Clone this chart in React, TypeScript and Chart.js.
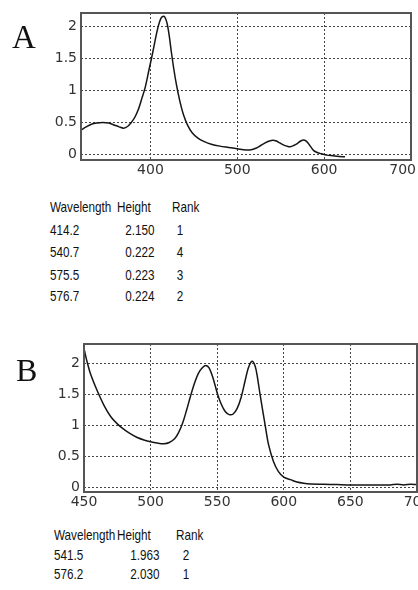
import React, { useEffect, useRef } from "react";
import { Chart, registerables } from "chart.js";

Chart.register(...registerables);

// ---------- Data: spectrum A ----------
const wavelengthsA = [
  320, 326, 332, 338, 345, 352, 358, 364, 369, 374, 378, 382, 386, 390, 394, 398,
  402, 406, 409, 412, 414.2, 416.5, 419, 421.5, 424, 427, 430, 434, 438, 443, 448,
  455, 462, 470, 480, 490, 500, 510, 516, 522, 527, 532, 537, 541, 545, 549, 553,
  557, 561, 565, 569, 573, 576.7, 580, 584, 588, 592, 597, 603, 610, 617, 624,
];
const absorbanceA = [
  0.38, 0.43, 0.47, 0.49, 0.5, 0.49, 0.46, 0.43, 0.41, 0.44, 0.5, 0.58, 0.7, 0.87, 1.05, 1.3,
  1.55, 1.82, 2.0, 2.12, 2.15, 2.14, 2.05, 1.86, 1.6, 1.32, 1.08, 0.82, 0.62, 0.45, 0.34,
  0.25, 0.2, 0.16, 0.13, 0.11, 0.09, 0.07, 0.075, 0.1, 0.14, 0.18, 0.21, 0.222, 0.21, 0.18, 0.15,
  0.13, 0.12, 0.14, 0.17, 0.21, 0.224, 0.2, 0.13, 0.06, 0.03, 0.01, -0.01, -0.02, -0.03, -0.035,
];
const xTicksA = [400, 500, 600, 700];

// ---------- Data: spectrum B ----------
const wavelengthsB = [
  450, 452, 455, 460, 465, 470, 475, 480, 485, 490, 495, 500, 505, 510, 514, 518, 521,
  524, 527, 530, 533, 536, 539, 541.5, 544, 547, 550, 553, 556, 559, 562, 565, 568, 571,
  573.5, 576.2, 578.5, 580, 582.3, 586, 588.6, 592.3, 596, 600, 605, 610, 615, 620, 630,
  640, 650, 660, 670, 680, 685, 690, 695, 700,
];
const absorbanceB = [
  2.24, 2.05, 1.82, 1.55, 1.32, 1.14, 1.02, 0.93, 0.86, 0.8, 0.76, 0.73, 0.71, 0.7, 0.72, 0.78, 0.88,
  1.03, 1.24, 1.47, 1.68, 1.84, 1.93, 1.963, 1.92, 1.75, 1.52, 1.34, 1.22, 1.17, 1.18, 1.27, 1.45, 1.72,
  1.93, 2.03, 1.95, 1.8, 1.48, 1.0, 0.68, 0.41, 0.25, 0.16, 0.12, 0.08, 0.06, 0.05, 0.045,
  0.04, 0.035, 0.035, 0.035, 0.035, 0.045, 0.035, 0.045, 0.04,
];
const xTicksB = [450, 500, 550, 600, 650, 700];

const yTicks = [0, 0.5, 1, 1.5, 2];

// ---------- Peak tables ----------
const peakWavelengthsA = [414.2, 540.7, 575.5, 576.7];
const peakHeightsA = [2.15, 0.222, 0.223, 0.224];
const peakRanksA = [1, 4, 3, 2];

const peakWavelengthsB = [541.5, 576.2];
const peakHeightsB = [1.963, 2.03];
const peakRanksB = [2, 1];

const tableHeaders = ["Wavelength", "Height", "Rank"];

// ---------- Helpers ----------
const framePlugin = {
  id: "frame",
  afterDraw(chart: any) {
    const { ctx, chartArea } = chart;
    const { left, top, right, bottom } = chartArea;
    ctx.save();
    ctx.strokeStyle = "#555";
    ctx.lineWidth = 2;
    ctx.strokeRect(left, top, right - left, bottom - top);
    ctx.restore();
  },
};

interface SpecOpts {
  xs: number[];
  ys: number[];
  xMin: number;
  xMax: number;
  yMin: number;
  yMax: number;
  xTicks: number[];
  yWidth: number;
  xHeight: number;
  padTop: number;
  padRight: number;
  lastLabelPad: number;
}

function makeConfig(o: SpecOpts): any {
  const tickFont = { family: '"DejaVu Sans", sans-serif', size: 14 };
  const lastTick = o.xTicks[o.xTicks.length - 1];
  return {
    type: "line",
    data: {
      datasets: [
        {
          data: o.xs.map((x, i) => ({ x, y: o.ys[i] })),
          borderColor: "#151515",
          borderWidth: 1.5,
          pointRadius: 0,
          tension: 0.3,
          fill: false,
        },
      ],
    },
    options: {
      animation: false,
      responsive: false,
      devicePixelRatio: 1,
      layout: { padding: { left: 0, top: o.padTop, right: o.padRight, bottom: 0 } },
      plugins: { legend: { display: false }, tooltip: { enabled: false } },
      scales: {
        x: {
          type: "linear",
          min: o.xMin,
          max: o.xMax,
          afterBuildTicks: (s: any) => {
            s.ticks = o.xTicks.map((v) => ({ value: v }));
          },
          afterFit: (s: any) => {
            s.height = o.xHeight;
            s.paddingLeft = 0;
            s.paddingRight = 0;
          },
          grid: { color: "#444", lineWidth: 1, drawTicks: false },
          border: { display: false, dash: [2, 2] },
          ticks: {
            font: tickFont,
            color: "#333",
            padding: 2,
            maxRotation: 0,
            autoSkip: false,
            callback: (v: any) =>
              v === lastTick ? String(v) + "\u2009".repeat(o.lastLabelPad) : String(v),
          },
        },
        y: {
          type: "linear",
          min: o.yMin,
          max: o.yMax,
          afterBuildTicks: (s: any) => {
            s.ticks = yTicks.map((v) => ({ value: v }));
          },
          afterFit: (s: any) => {
            s.width = o.yWidth;
            s.paddingTop = 0;
            s.paddingBottom = 0;
          },
          grid: { color: "#444", lineWidth: 1, drawTicks: false },
          border: { display: false, dash: [2, 2] },
          ticks: {
            font: tickFont,
            color: "#333",
            padding: 4,
            autoSkip: false,
            callback: (v: any) => String(v),
          },
        },
      },
    },
    plugins: [framePlugin],
  };
}

function Spectrum(props: { opts: SpecOpts; top: number; height: number }) {
  const ref = useRef<HTMLCanvasElement | null>(null);
  useEffect(() => {
    if (!ref.current) return;
    const chart = new Chart(ref.current, makeConfig(props.opts));
    return () => chart.destroy();
  }, []);
  return (
    <canvas
      ref={ref}
      width={418}
      height={props.height}
      style={{ position: "absolute", left: 0, top: props.top, width: 418, height: props.height, display: "block" }}
    />
  );
}

const TABLE_FONT = '"Liberation Sans", Arial, sans-serif';
const SERIF = '"Liberation Serif", "Times New Roman", serif';
const NARROW = 0.78;

function Txt(props: {
  x: number;
  baseline: number;
  size: number;
  family: string;
  align?: "left" | "right" | "center";
  ascent?: number;
  squeeze?: number;
  children: any;
}) {
  const asc = props.ascent ?? 0.8465;
  const sq = props.squeeze ?? 1;
  const style: any = {
    position: "absolute",
    top: props.baseline - asc * props.size,
    fontSize: props.size,
    lineHeight: props.size + "px",
    fontFamily: props.family,
    whiteSpace: "nowrap",
    color: "#111",
  };
  const align = props.align ?? "left";
  if (align === "left") {
    style.left = props.x;
    style.transform = `scaleX(${sq})`;
    style.transformOrigin = "left center";
  } else if (align === "right") {
    style.right = 418 - props.x;
    style.transform = `scaleX(${sq})`;
    style.transformOrigin = "right center";
  } else {
    style.left = props.x;
    style.transform = `translateX(-50%) scaleX(${sq})`;
    style.transformOrigin = "center center";
  }
  return <div style={style}>{props.children}</div>;
}

function PeakTable(props: {
  wl: number[];
  h: number[];
  rank: number[];
  xWl: number;
  xHeightHdr: number;
  xHeightRight: number;
  xRankHdr: number;
  xRankCenter: number;
  headerBaseline: number;
  rowBaselines: number[];
}) {
  const fs = 15;
  const common = { size: fs, family: TABLE_FONT, squeeze: NARROW };
  return (
    <>
      <Txt x={props.xWl} baseline={props.headerBaseline} {...common}>
        {tableHeaders[0]}
      </Txt>
      <Txt x={props.xHeightHdr} baseline={props.headerBaseline} {...common}>
        {tableHeaders[1]}
      </Txt>
      <Txt x={props.xRankHdr} baseline={props.headerBaseline} {...common}>
        {tableHeaders[2]}
      </Txt>
      {props.wl.map((w, i) => (
        <React.Fragment key={i}>
          <Txt x={props.xWl} baseline={props.rowBaselines[i]} {...common}>
            {w.toFixed(1)}
          </Txt>
          <Txt x={props.xHeightRight} baseline={props.rowBaselines[i]} {...common} align="right">
            {props.h[i].toFixed(3)}
          </Txt>
          <Txt x={props.xRankCenter} baseline={props.rowBaselines[i]} {...common} align="center">
            {String(props.rank[i])}
          </Txt>
        </React.Fragment>
      ))}
    </>
  );
}

export default function App() {
  const optsA: SpecOpts = {
    xs: wavelengthsA,
    ys: absorbanceA,
    xMin: 320,
    xMax: 700,
    yMin: -0.086,
    yMax: 2.204,
    xTicks: xTicksA,
    yWidth: 81,
    xHeight: 25,
    padTop: 13,
    padRight: 7,
    lastLabelPad: 6,
  };
  const optsB: SpecOpts = {
    xs: wavelengthsB,
    ys: absorbanceB,
    xMin: 450,
    xMax: 700,
    yMin: -0.08,
    yMax: 2.31,
    xTicks: xTicksB,
    yWidth: 84,
    xHeight: 18,
    padTop: 14,
    padRight: 1,
    lastLabelPad: 0,
  };
  return (
    <div style={{ position: "absolute", left: 0, top: 0, width: 418, height: 590, background: "#fff", overflow: "hidden" }}>
      <Spectrum opts={optsA} top={0} height={185} />
      <Spectrum opts={optsB} top={330} height={180} />
      <Txt x={12} baseline={48.3} size={33} family={SERIF} ascent={0.8375}>
        A
      </Txt>
      <Txt x={16} baseline={381} size={32} family={SERIF} ascent={0.8375}>
        B
      </Txt>
      <PeakTable
        wl={peakWavelengthsA}
        h={peakHeightsA}
        rank={peakRanksA}
        xWl={50}
        xHeightHdr={117}
        xHeightRight={154.5}
        xRankHdr={172}
        xRankCenter={180}
        headerBaseline={211.5}
        rowBaselines={[235, 256.7, 279.3, 301]}
      />
      <PeakTable
        wl={peakWavelengthsB}
        h={peakHeightsB}
        rank={peakRanksB}
        xWl={54}
        xHeightHdr={117}
        xHeightRight={160}
        xRankHdr={176}
        xRankCenter={185.5}
        headerBaseline={540}
        rowBaselines={[559.3, 578.3]}
      />
    </div>
  );
}
